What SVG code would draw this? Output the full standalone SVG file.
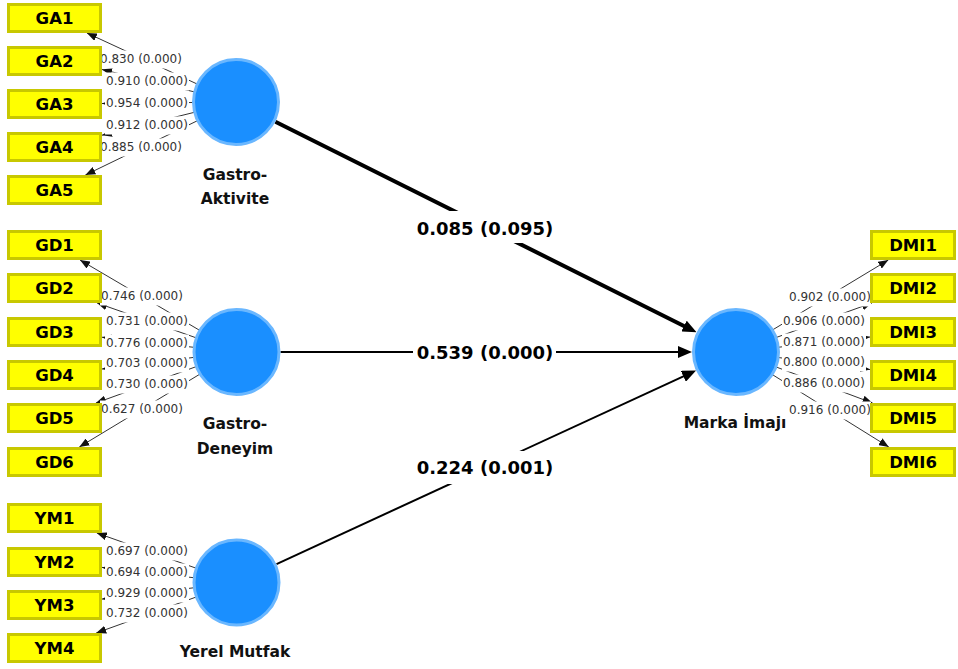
<svg xmlns="http://www.w3.org/2000/svg" width="958" height="669" viewBox="0 0 958 669">
<style>
.ind rect{fill:#ffff00;stroke:#c8c800;stroke-width:3}
.ind text{font-family:"DejaVu Sans",sans-serif;font-weight:bold;font-size:16.5px;text-anchor:middle;fill:#000}
.lv circle{fill:#1a8fff;stroke:#6ab7ff;stroke-width:3}
.lv text{font-family:"DejaVu Sans",sans-serif;font-weight:bold;font-size:15.5px;text-anchor:middle;fill:#111}
.ld{stroke:#333;stroke-width:1;fill:none;marker-end:url(#la)}
.pth{stroke:#000;fill:none;marker-end:url(#pa)}
.bg{fill:#fff}
.ll{font-family:"DejaVu Sans",sans-serif;font-size:12px;fill:#333}
.pl{font-family:"DejaVu Sans",sans-serif;font-weight:bold;font-size:18px;fill:#000;text-anchor:middle}
</style>
<defs>
<marker id="la" markerUnits="userSpaceOnUse" viewBox="0 0 10 8" markerWidth="10" markerHeight="8" refX="10" refY="4" orient="auto"><path d="M0,0 L10,4 L0,8 z" fill="#111"/></marker>
<marker id="pa" markerUnits="userSpaceOnUse" viewBox="0 0 14 12" markerWidth="14" markerHeight="12" refX="6" refY="6" orient="auto"><path d="M0,0 L14,6 L0,12 z" fill="#000"/></marker>
</defs>
<rect width="958" height="669" fill="#fff"/>
<g id="connectors">
<line class="ld" x1="236" y1="102" x2="86.9" y2="33"/>
<line class="ld" x1="236" y1="102" x2="102" y2="69.5"/>
<line class="ld" x1="236" y1="102" x2="102" y2="103.5"/>
<line class="ld" x1="236" y1="102" x2="102" y2="135.2"/>
<line class="ld" x1="236" y1="102" x2="85.4" y2="175"/>
<line class="ld" x1="236.5" y1="352" x2="80" y2="260"/>
<line class="ld" x1="236.5" y1="352" x2="97.1" y2="303"/>
<line class="ld" x1="236.5" y1="352" x2="102" y2="337.2"/>
<line class="ld" x1="236.5" y1="352" x2="102" y2="369"/>
<line class="ld" x1="236.5" y1="352" x2="95.9" y2="403"/>
<line class="ld" x1="236.5" y1="352" x2="79.3" y2="447"/>
<line class="ld" x1="236.5" y1="582.5" x2="96.8" y2="533"/>
<line class="ld" x1="236.5" y1="582.5" x2="102" y2="567.4"/>
<line class="ld" x1="236.5" y1="582.5" x2="102" y2="599.1"/>
<line class="ld" x1="236.5" y1="582.5" x2="96.2" y2="633"/>
<line class="ld" x1="736" y1="352" x2="888.3" y2="260"/>
<line class="ld" x1="736" y1="352" x2="871.8" y2="303"/>
<line class="ld" x1="736" y1="352" x2="870" y2="337"/>
<line class="ld" x1="736" y1="352" x2="870" y2="369.5"/>
<line class="ld" x1="736" y1="352" x2="872.5" y2="403"/>
<line class="ld" x1="736" y1="352" x2="888.8" y2="447"/>
<line class="pth" x1="275.4" y1="121.7" x2="689.4" y2="328.7" stroke-width="4"/>
<line class="pth" x1="280.5" y1="352" x2="684" y2="352" stroke-width="2"/>
<line class="pth" x1="276.5" y1="564.1" x2="688.8" y2="373.8" stroke-width="2"/>
<g id="loading-labels">
<rect class="bg" x="99" y="50.5" width="84" height="18"/><text class="ll" x="100" y="63.3">0.830 (0.000)</text>
<rect class="bg" x="105" y="72.5" width="84" height="18"/><text class="ll" x="106" y="85.3">0.910 (0.000)</text>
<rect class="bg" x="105" y="94.5" width="84" height="18"/><text class="ll" x="106" y="107.3">0.954 (0.000)</text>
<rect class="bg" x="105" y="116.5" width="84" height="18"/><text class="ll" x="106" y="129.3">0.912 (0.000)</text>
<rect class="bg" x="99" y="138.5" width="84" height="18"/><text class="ll" x="100" y="151.3">0.885 (0.000)</text>
<rect class="bg" x="100" y="287.5" width="84" height="18"/><text class="ll" x="101" y="300.3">0.746 (0.000)</text>
<rect class="bg" x="105" y="312.5" width="84" height="18"/><text class="ll" x="106" y="325.3">0.731 (0.000)</text>
<rect class="bg" x="105" y="334.5" width="84" height="18"/><text class="ll" x="106" y="347.3">0.776 (0.000)</text>
<rect class="bg" x="105" y="354.5" width="84" height="18"/><text class="ll" x="106" y="367.3">0.703 (0.000)</text>
<rect class="bg" x="105" y="375.5" width="84" height="18"/><text class="ll" x="106" y="388.3">0.730 (0.000)</text>
<rect class="bg" x="100" y="400.5" width="84" height="18"/><text class="ll" x="101" y="413.3">0.627 (0.000)</text>
<rect class="bg" x="105" y="542.5" width="84" height="18"/><text class="ll" x="106" y="555.3">0.697 (0.000)</text>
<rect class="bg" x="105" y="563.5" width="84" height="18"/><text class="ll" x="106" y="576.3">0.694 (0.000)</text>
<rect class="bg" x="105" y="584.5" width="84" height="18"/><text class="ll" x="106" y="597.3">0.929 (0.000)</text>
<rect class="bg" x="105" y="604.5" width="84" height="18"/><text class="ll" x="106" y="617.3">0.732 (0.000)</text>
<rect class="bg" x="788" y="288.5" width="83" height="18"/><text class="ll" x="789" y="301.3">0.902 (0.000)</text>
<rect class="bg" x="782" y="312.5" width="84" height="18"/><text class="ll" x="783" y="325.3">0.906 (0.000)</text>
<rect class="bg" x="782" y="333.5" width="84" height="18"/><text class="ll" x="783" y="346.3">0.871 (0.000)</text>
<rect class="bg" x="782" y="353.5" width="84" height="18"/><text class="ll" x="783" y="366.3">0.800 (0.000)</text>
<rect class="bg" x="782" y="374.5" width="84" height="18"/><text class="ll" x="783" y="387.3">0.886 (0.000)</text>
<rect class="bg" x="788" y="401.5" width="83" height="18"/><text class="ll" x="789" y="414.3">0.916 (0.000)</text>
</g>
<g id="path-labels">
<rect class="bg" x="413" y="211" width="143" height="32"/><text class="pl" x="485" y="234.5">0.085 (0.095)</text>
<rect class="bg" x="413" y="336" width="143" height="32"/><text class="pl" x="485" y="358.5">0.539 (0.000)</text>
<rect class="bg" x="413" y="451" width="143" height="33"/><text class="pl" x="485" y="473.5">0.224 (0.001)</text>
</g>
</g>
<g id="GA1" class="ind"><rect x="8.5" y="4.5" width="92" height="27"/><text x="54.5" y="24">GA1</text></g>
<g id="GA2" class="ind"><rect x="8.5" y="47.5" width="92" height="27"/><text x="54.5" y="67">GA2</text></g>
<g id="GA3" class="ind"><rect x="8.5" y="90.5" width="92" height="27"/><text x="54.5" y="110">GA3</text></g>
<g id="GA4" class="ind"><rect x="8.5" y="133.5" width="92" height="27"/><text x="54.5" y="153">GA4</text></g>
<g id="GA5" class="ind"><rect x="8.5" y="176.5" width="92" height="27"/><text x="54.5" y="196">GA5</text></g>
<g id="GD1" class="ind"><rect x="8.5" y="231.5" width="92" height="27"/><text x="54.5" y="251">GD1</text></g>
<g id="GD2" class="ind"><rect x="8.5" y="274.5" width="92" height="27"/><text x="54.5" y="294">GD2</text></g>
<g id="GD3" class="ind"><rect x="8.5" y="318.5" width="92" height="27"/><text x="54.5" y="338">GD3</text></g>
<g id="GD4" class="ind"><rect x="8.5" y="361.5" width="92" height="27"/><text x="54.5" y="381">GD4</text></g>
<g id="GD5" class="ind"><rect x="8.5" y="404.5" width="92" height="27"/><text x="54.5" y="424">GD5</text></g>
<g id="GD6" class="ind"><rect x="8.5" y="448.5" width="92" height="27"/><text x="54.5" y="468">GD6</text></g>
<g id="YM1" class="ind"><rect x="8.5" y="504.5" width="92" height="27"/><text x="54.5" y="524">YM1</text></g>
<g id="YM2" class="ind"><rect x="8.5" y="548.5" width="92" height="27"/><text x="54.5" y="568">YM2</text></g>
<g id="YM3" class="ind"><rect x="8.5" y="591.5" width="92" height="27"/><text x="54.5" y="611">YM3</text></g>
<g id="YM4" class="ind"><rect x="8.5" y="634.5" width="92" height="27"/><text x="54.5" y="654">YM4</text></g>
<g id="DMI1" class="ind"><rect x="871.5" y="231.5" width="83" height="27"/><text x="913" y="251">DMI1</text></g>
<g id="DMI2" class="ind"><rect x="871.5" y="274.5" width="83" height="27"/><text x="913" y="294">DMI2</text></g>
<g id="DMI3" class="ind"><rect x="871.5" y="318.5" width="83" height="27"/><text x="913" y="338">DMI3</text></g>
<g id="DMI4" class="ind"><rect x="871.5" y="361.5" width="83" height="27"/><text x="913" y="381">DMI4</text></g>
<g id="DMI5" class="ind"><rect x="871.5" y="404.5" width="83" height="27"/><text x="913" y="424">DMI5</text></g>
<g id="DMI6" class="ind"><rect x="871.5" y="448.5" width="83" height="27"/><text x="913" y="468">DMI6</text></g>
<g id="GastroAktivite" class="lv"><circle cx="236" cy="102" r="42.5"/><text x="235" y="179.5">Gastro-</text><text x="235" y="204">Aktivite</text></g>
<g id="GastroDeneyim" class="lv"><circle cx="236.5" cy="352" r="42.5"/><text x="235" y="429">Gastro-</text><text x="235" y="454">Deneyim</text></g>
<g id="YerelMutfak" class="lv"><circle cx="236.5" cy="582.5" r="42.5"/><text x="235" y="657">Yerel Mutfak</text></g>
<g id="MarkaImaji" class="lv"><circle cx="736" cy="352" r="42.5"/><text x="735" y="428">Marka İmajı</text></g>
</svg>
